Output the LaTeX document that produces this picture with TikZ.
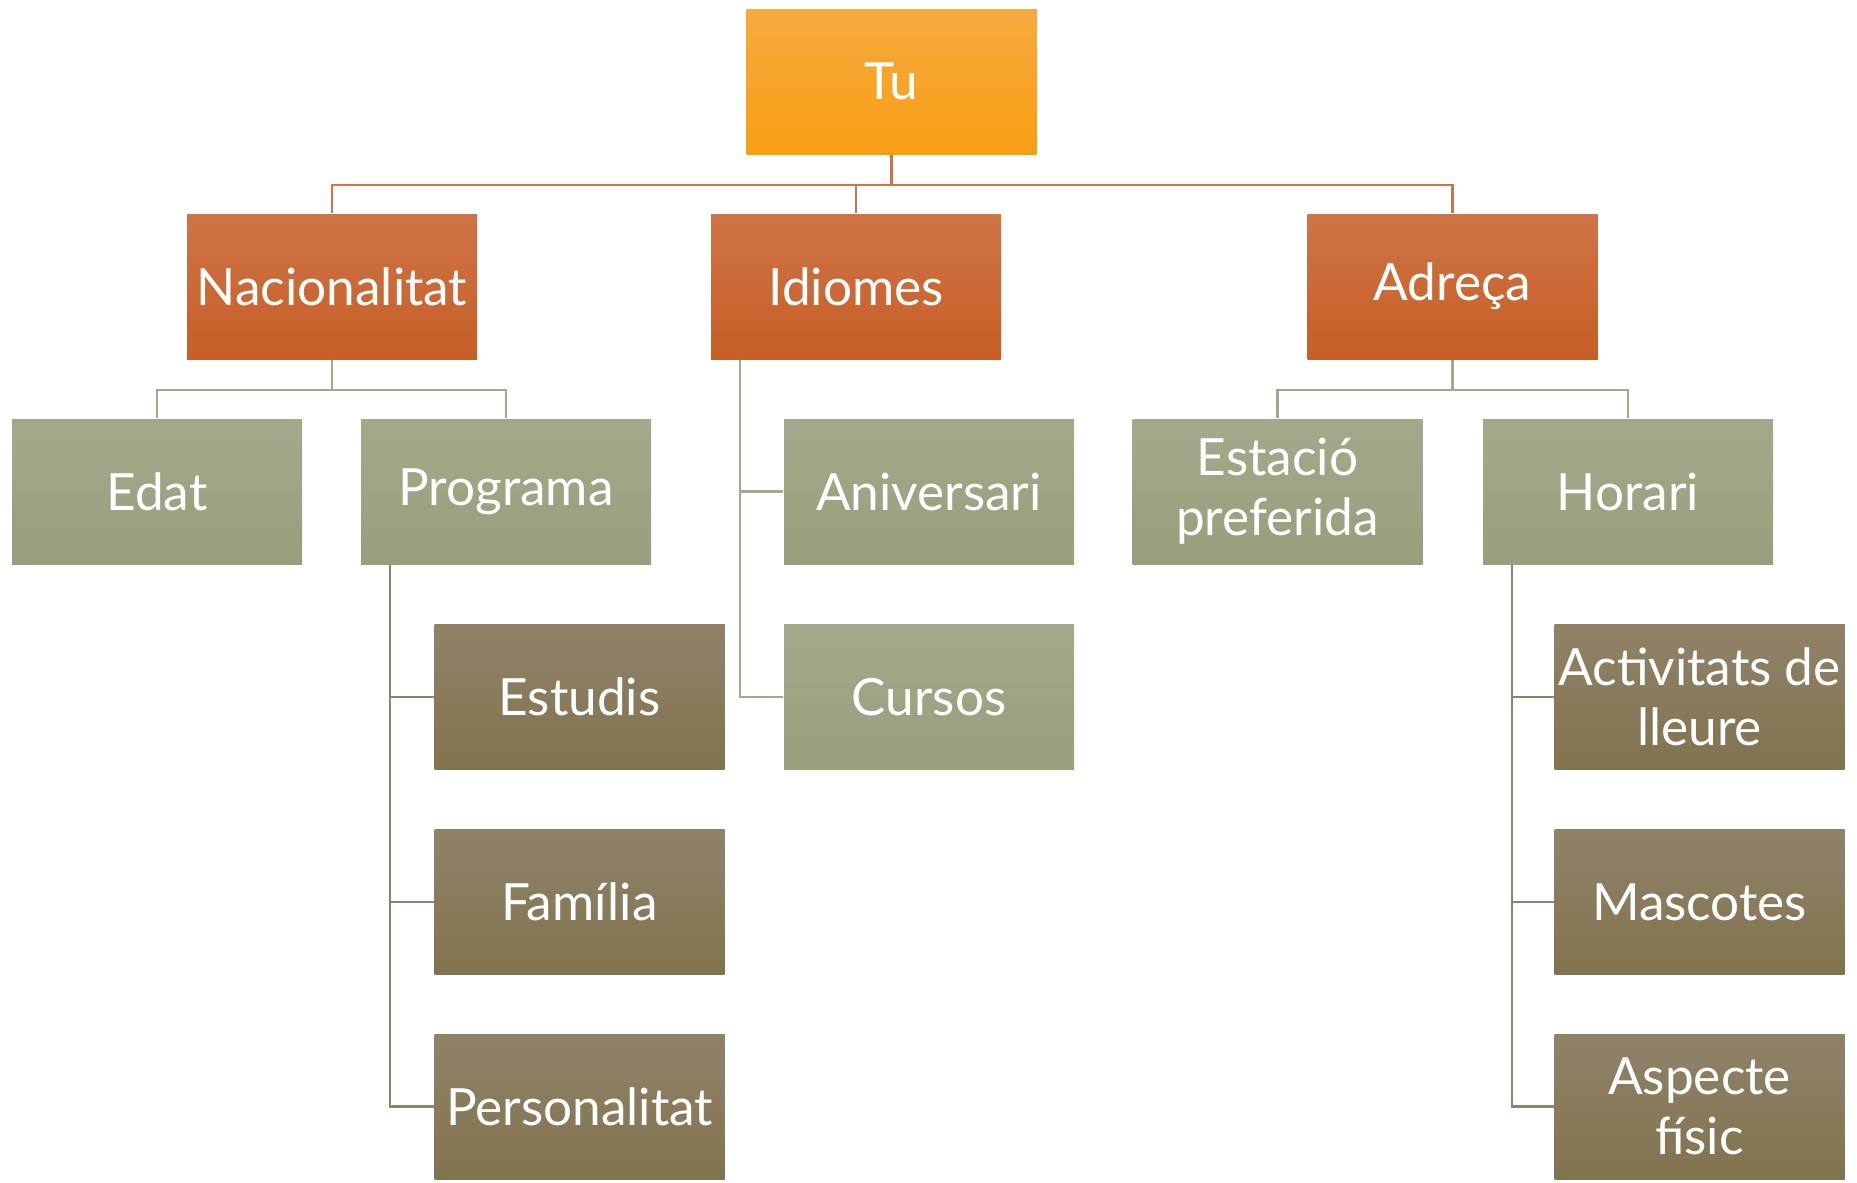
\documentclass[tikz,border=0pt]{standalone}
\usepackage{fontspec}
\setmainfont{Lato}
\usepackage{tikz}
\usetikzlibrary{positioning}

\definecolor{tutop}{HTML}{F6AA40}
\definecolor{tubot}{HTML}{F79E12}
\definecolor{rustop}{HTML}{CF7448}
\definecolor{rusbot}{HTML}{C75E25}
\definecolor{sagetop}{HTML}{A3A98B}
\definecolor{sagebot}{HTML}{989F7C}
\definecolor{mudtop}{HTML}{8F8268}
\definecolor{mudbot}{HTML}{82734F}

\begin{document}
\begin{tikzpicture}
[box/.style={rectangle,minimum width=2.9cm,minimum height=1.45cm,inner sep=0pt,
  text=white,align=center,font=\fontsize{14.6}{17}\selectfont},
root/.style={box,top color=tutop,bottom color=tubot},
rust/.style={box,top color=rustop,bottom color=rusbot},
sage/.style={box,top color=sagetop,bottom color=sagebot},
mud/.style={box,top color=mudtop,bottom color=mudbot},
rustline/.style={draw=rustop,line width=0.6pt},
sageline/.style={draw=sagetop,line width=0.6pt},
mudline/.style={draw=mudtop,line width=0.6pt}]
\useasboundingbox (0,0) rectangle (18.57,-11.82);
% top
\node (tu) at (8.915,-0.815) [root] {Tu};
% first level
\node (nac) at (3.32,-2.865) [rust] {Nacionalitat};
\node (idio) at (8.56,-2.865) [rust] {Idiomes};
\node (adr) at (14.525,-2.865) [rust] {Adreça};
% second level
\node (edat) at (1.57,-4.915) [sage] {Edat};
\node (prog) at (5.06,-4.915) [sage] {Programa};
\node (aniv) at (9.29,-4.915) [sage] {Aniversari};
\node (curs) at (9.29,-6.97) [sage] {Cursos};
\node (esta) at (12.775,-4.915) [sage] {Estació\\preferida};
\node (hora) at (16.28,-4.915) [sage] {Horari};
% third level
\node (estu) at (5.795,-6.97) [mud] {Estudis};
\node (fami) at (5.795,-9.02) [mud] {Família};
\node (pers) at (5.795,-11.065) [mud] {Personalitat};
\node (acti) at (16.995,-6.97) [mud] {Activitats de\\lleure};
\node (masc) at (16.995,-9.02) [mud] {Mascotes};
\node (aspe) at (16.995,-11.065) [mud] {Aspecte\\físic};
% connectors
\draw[rustline] (tu.south) -- ++(0,-0.3) -| (nac.north);
\draw[rustline] (tu.south) -- ++(0,-0.3) -| (idio.north);
\draw[rustline] (tu.south) -- ++(0,-0.3) -| (adr.north);
\draw[sageline] (nac.south) -- ++(0,-0.3) -| (edat.north);
\draw[sageline] (nac.south) -- ++(0,-0.3) -| (prog.north);
\draw[sageline] (adr.south) -- ++(0,-0.3) -| (esta.north);
\draw[sageline] (adr.south) -- ++(0,-0.3) -| (hora.north);
\draw[sageline] (idio.south west) ++(0.3,0) |- (aniv.west);
\draw[sageline] (idio.south west) ++(0.3,0) |- (curs.west);
\draw[mudline] (prog.south west) ++(0.3,0) |- (estu.west);
\draw[mudline] (prog.south west) ++(0.3,0) |- (fami.west);
\draw[mudline] (prog.south west) ++(0.3,0) |- (pers.west);
\draw[mudline] (hora.south west) ++(0.3,0) |- (acti.west);
\draw[mudline] (hora.south west) ++(0.3,0) |- (masc.west);
\draw[mudline] (hora.south west) ++(0.3,0) |- (aspe.west);
\end{tikzpicture}
\end{document}
